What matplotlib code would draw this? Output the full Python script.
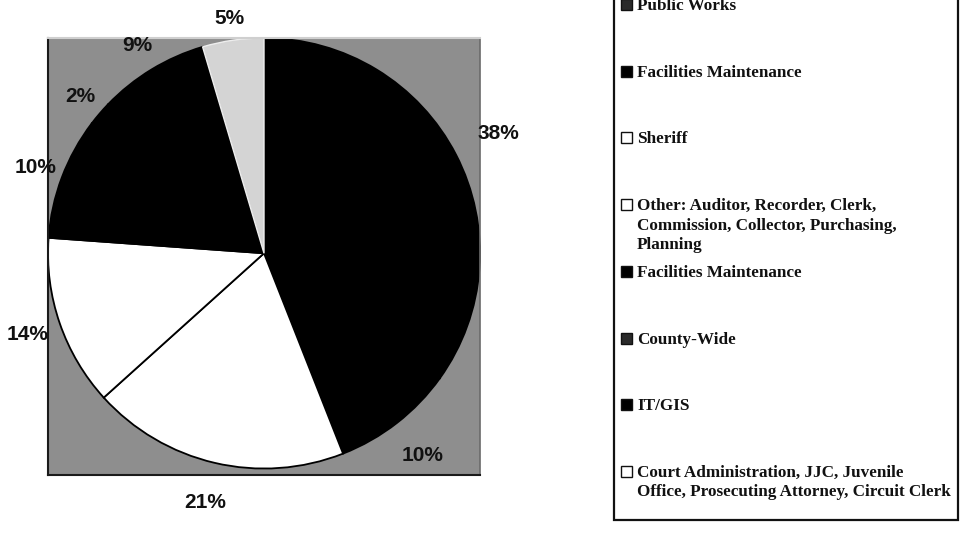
import matplotlib
matplotlib.use("Agg")
import matplotlib.pyplot as plt
from matplotlib.patches import Rectangle
import numpy as np

# Data (slice values as shown by the percentage labels, clockwise from 12 o'clock)
pct_labels = ["38%", "10%", "21%", "14%", "10%", "2%", "9%", "5%"]
values = [38, 10, 21, 14, 10, 2, 9, 5]
legend_labels = [
    "Public Works",
    "Facilities Maintenance",
    "Sheriff",
    "Other: Auditor, Recorder, Clerk,\nCommission, Collector, Purchasing,\nPlanning",
    "Facilities Maintenance",
    "County-Wide",
    "IT/GIS",
    "Court Administration, JJC, Juvenile\nOffice, Prosecuting Attorney, Circuit Clerk",
]

# styling
slice_colors = ["#000000", "#000000", "#ffffff", "#ffffff",
                "#000000", "#000000", "#000000", "#d4d4d4"]
legend_colors = ["#2a2a2a", "#000000", "#ffffff", "#ffffff",
                 "#000000", "#2a2a2a", "#000000", "#ffffff"]
label_dist = [1.22, 1.19, 1.19, 1.16, 1.13, 1.12, 1.13, 1.10]

W, H = 960, 534
fig = plt.figure(figsize=(W / 100, H / 100), dpi=100)
fig.patch.set_facecolor("white")

# pie axes (square plot area with gray background)
ax = fig.add_axes([48 / W, (H - 475) / H, 432 / W, 437 / H])
wedges, texts = ax.pie(
    values, labels=pct_labels, colors=slice_colors, startangle=90,
    counterclock=False, radius=1.0, labeldistance=1.15,
    wedgeprops=dict(edgecolor="#000000", linewidth=1.3),
    textprops=dict(fontsize=15, fontweight="bold", family="Liberation Sans",
                   color="#111111"),
)
for w, t, d in zip(wedges, texts, label_dist):
    mid = np.deg2rad((w.theta1 + w.theta2) / 2.0)
    t.set_position((d * np.cos(mid), d * np.sin(mid)))
    t.set_ha("center")
    t.set_va("center")
    t.set_clip_on(False)
    w.set_clip_on(False)
wedges[-1].set_edgecolor("#eeeeee")
wedges[-1].set_linewidth(1.0)

ax.set_frame_on(True)
ax.set_facecolor("#8e8e8e")
ax.patch.set_visible(True)
ax.set_xlim(-1.0, 1.0)
ax.set_ylim(-1.03, 1.0)
ax.set_aspect("auto")
ax.set_xticks([])
ax.set_yticks([])
for side in ["left", "bottom"]:
    ax.spines[side].set_color("#1a1a1a")
    ax.spines[side].set_linewidth(1.5)
ax.spines["right"].set_color("#6a6a6a")
ax.spines["right"].set_linewidth(1.2)
ax.spines["top"].set_color("#cfcfcf")
ax.spines["top"].set_linewidth(1.5)

# legend box (extends above the top of the image)
lx0, lx1 = 614, 958
ly_bottom = 520
box = Rectangle((lx0 / W, (H - ly_bottom) / H), (lx1 - lx0) / W, 1.2,
                transform=fig.transFigure, facecolor="white",
                edgecolor="#111111", linewidth=1.6, clip_on=False)
fig.add_artist(box)

step = 66.7
first_base = 10
line_gap = 19.5
for i, (lab, col) in enumerate(zip(legend_labels, legend_colors)):
    base = first_base + i * step
    sq = Rectangle((621 / W, (H - base) / H), 11 / W, 11 / H,
                   transform=fig.transFigure, facecolor=col,
                   edgecolor="#111111", linewidth=1.0)
    fig.add_artist(sq)
    for j, line in enumerate(lab.split("\n")):
        fig.text(637 / W, (H - base - j * line_gap) / H, line, ha="left",
                 va="baseline", fontsize=12.3, fontweight="bold",
                 family="Liberation Serif", color="#111111")

fig.savefig("out.png", dpi=100)
